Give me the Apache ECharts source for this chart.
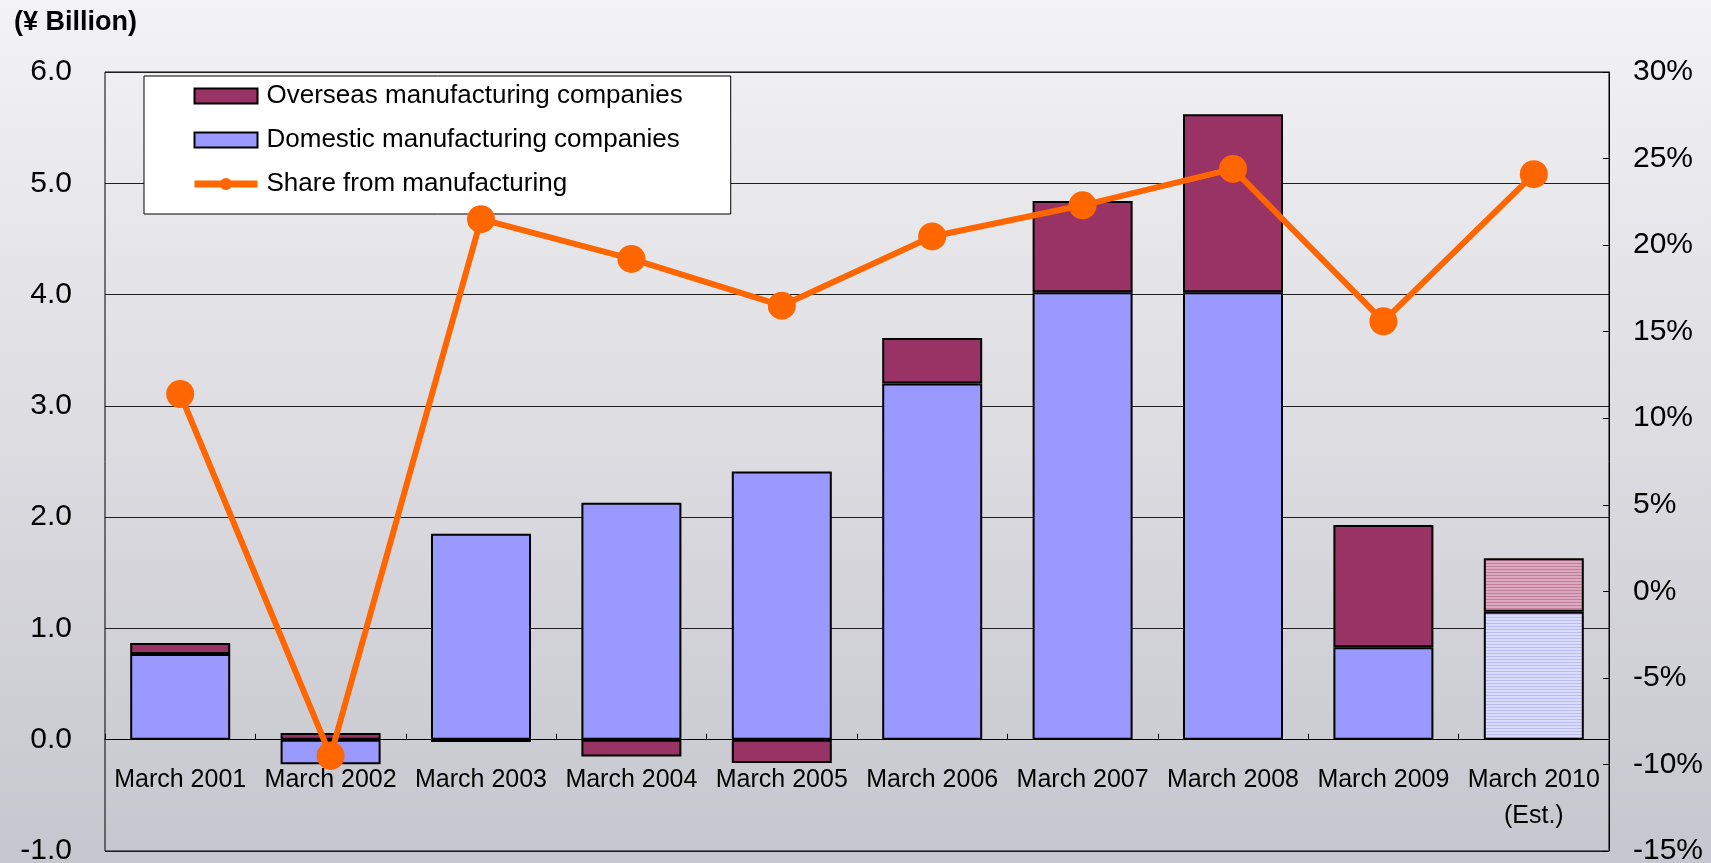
<!DOCTYPE html>
<html>
<head>
<meta charset="utf-8">
<title>Manufacturing share</title>
<script src="https://cdn.jsdelivr.net/npm/echarts@6/dist/echarts.min.js"></script>
<style>
  html, body { margin: 0; padding: 0; width: 1711px; height: 863px; overflow: hidden; }
  #chart { width: 1711px; height: 863px; }
</style>
</head>
<body>
<div id="chart"></div>
<script>
// Fiscal years (March year-end); the last one is an estimate
const categories = ['March 2001', 'March 2002', 'March 2003', 'March 2004', 'March 2005',
  'March 2006', 'March 2007', 'March 2008', 'March 2009', 'March 2010\n(Est.)'];

// ¥ Billion
const domestic = [0.77, -0.22, 1.85, 2.13, 2.41, 3.20, 4.02, 4.02, 0.83, 1.15];
const overseas = [0.10, 0.06, -0.02, -0.15, -0.21, 0.41, 0.82, 1.60, 1.10, 0.48];

// Share from manufacturing, %
const shareFromMfg = [11.4, -9.5, 21.5, 19.2, 16.5, 20.5, 22.3, 24.4, 15.6, 24.1];

// Axis ranges
const leftAxis = { min: -1, max: 6, step: 1 };
const rightAxis = { min: -15, max: 30, step: 5 };

const estimateIndex = categories.length - 1;
const FONT = '"Liberation Sans", Arial, Helvetica, sans-serif';

const W = 1711, H = 863;
const gridBox = { left: 105, right: 102, top: 72, bottom: 12 };
// distance from the bottom of the plot up to the zero line of the left axis
const plotHeight = H - gridBox.top - gridBox.bottom;
const zeroLift = plotHeight * (0 - leftAxis.min) / (leftAxis.max - leftAxis.min);

// Horizontal-stripe fill used for the estimated year
function stripePattern(light, dark) {
  const c = document.createElement('canvas');
  c.width = 4; c.height = 3;
  const ctx = c.getContext('2d');
  ctx.fillStyle = light; ctx.fillRect(0, 0, 4, 3);
  ctx.fillStyle = dark; ctx.fillRect(0, 2, 4, 1);
  return { image: c, repeat: 'repeat' };
}

function barData(values, estFill) {
  return values.map((v, i) => i === estimateIndex
    ? { value: v, itemStyle: { color: estFill } }
    : v);
}

const chart = echarts.init(document.getElementById('chart'), null, { renderer: 'canvas' });

const option = {
  animation: false,
  backgroundColor: new echarts.graphic.LinearGradient(0, 0, 0, 1, [
    { offset: 0, color: '#F3F3F5' },
    { offset: 1, color: '#C6C6CE' }
  ]),
  textStyle: { fontFamily: FONT, color: '#000' },
  title: {
    text: '(¥ Billion)',
    left: 14, top: 9, padding: 0,
    textStyle: { fontFamily: FONT, fontSize: 27, fontWeight: 'bold', color: '#000' }
  },
  legend: {
    orient: 'vertical',
    left: 144, top: 76,
    padding: [6, 48, 16, 47],
    backgroundColor: '#FFFFFF',
    borderColor: '#000',
    borderWidth: 1,
    itemWidth: 63,
    itemHeight: 15,
    itemGap: 16,
    data: [
      { name: 'Overseas manufacturing companies', icon: 'rect' },
      { name: 'Domestic manufacturing companies', icon: 'rect' },
      { name: 'Share from manufacturing', lineStyle: { width: 7, color: '#FF6600' }, itemStyle: { color: '#FF6600' } }
    ],
    textStyle: { fontFamily: FONT, fontSize: 26, color: '#000', lineHeight: 28, padding: [0, 0, 0, 4] }
  },
  grid: {
    left: gridBox.left, right: gridBox.right, top: gridBox.top, bottom: gridBox.bottom,
    show: true, borderColor: '#000', borderWidth: 1,
    backgroundColor: 'transparent',
    containLabel: false,
    outerBoundsMode: 'none'
  },
  xAxis: [
    {
      type: 'category',
      data: categories,
      boundaryGap: true,
      axisLine: { show: true, onZero: true, onZeroAxisIndex: 0, lineStyle: { color: '#000', width: 1 } },
      axisTick: { show: true, inside: true, length: 6, lineStyle: { color: '#000' } },
      axisLabel: { show: false }
    },
    {
      // category names, placed just under the zero line
      type: 'category',
      data: categories,
      position: 'bottom',
      offset: -zeroLift,
      boundaryGap: true,
      axisLine: { show: false, onZero: false },
      axisTick: { show: false },
      splitLine: { show: false },
      axisLabel: { show: true, interval: 0, margin: 22, fontSize: 25, lineHeight: 36, color: '#000', fontFamily: FONT }
    }
  ],
  yAxis: [
    {
      type: 'value', position: 'left',
      min: leftAxis.min, max: leftAxis.max, interval: leftAxis.step,
      axisLine: { show: false },
      axisTick: { show: false },
      splitLine: { show: true, lineStyle: { color: '#1E1E1E', width: 1 } },
      axisLabel: { margin: 33, fontSize: 30, color: '#000', fontFamily: FONT, formatter: v => v.toFixed(1) }
    },
    {
      type: 'value', position: 'right',
      min: rightAxis.min, max: rightAxis.max, interval: rightAxis.step,
      axisLine: { show: true, lineStyle: { color: '#000', width: 1 } },
      axisTick: { show: true, inside: true, length: 6, lineStyle: { color: '#000' } },
      splitLine: { show: false },
      axisLabel: { margin: 24, fontSize: 30, color: '#000', fontFamily: FONT, formatter: v => v + '%' }
    }
  ],
  series: [
    {
      name: 'Domestic manufacturing companies',
      type: 'bar', stack: 'total', yAxisIndex: 0,
      barWidth: 100,
      itemStyle: { color: '#9999FF', borderColor: '#000', borderWidth: 2 },
      data: barData(domestic, stripePattern('#DCDCFF', '#BABAF6'))
    },
    {
      name: 'Overseas manufacturing companies',
      type: 'bar', stack: 'total', yAxisIndex: 0,
      barWidth: 100,
      itemStyle: { color: '#993366', borderColor: '#000', borderWidth: 2 },
      data: barData(overseas, stripePattern('#DDA9C0', '#C08099'))
    },
    {
      name: 'Share from manufacturing',
      type: 'line', yAxisIndex: 1, z: 5,
      symbol: 'circle', symbolSize: 28,
      lineStyle: { color: '#FF6600', width: 6 },
      itemStyle: { color: '#FF6600' },
      data: shareFromMfg
    }
  ]
};

chart.setOption(option);
</script>
</body>
</html>
